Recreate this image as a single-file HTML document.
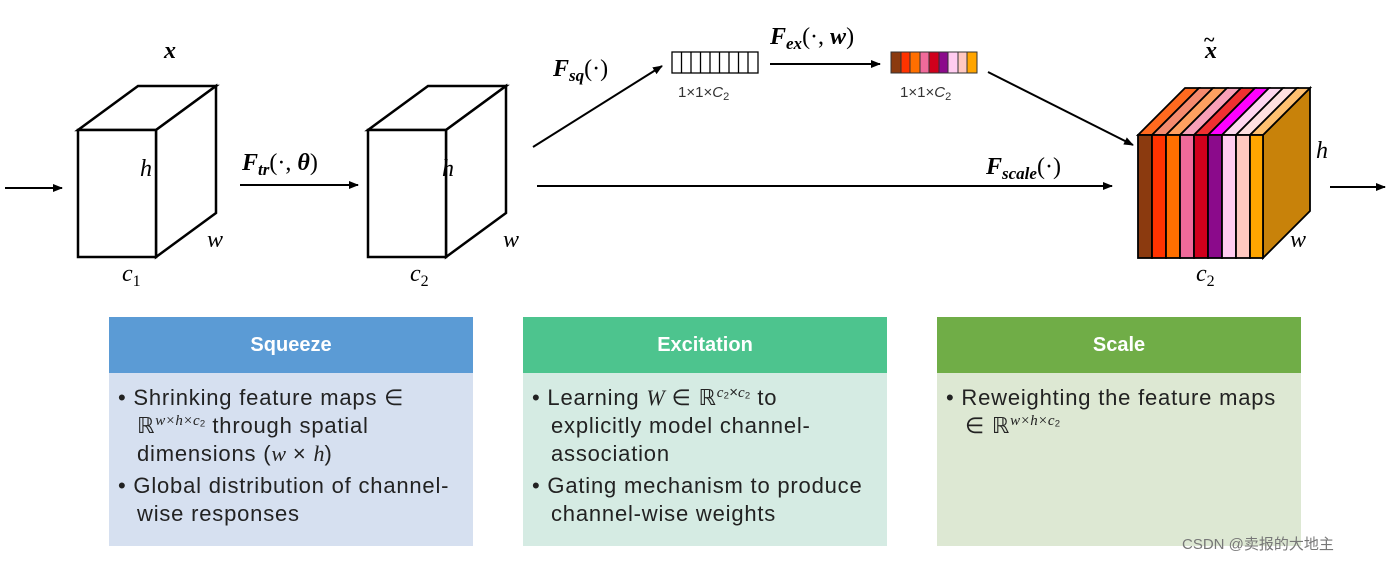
<!DOCTYPE html>
<html><head><meta charset="utf-8"><style>
body{margin:0;width:1389px;height:561px;background:#fff;overflow:hidden;font-family:"Liberation Sans",sans-serif;position:relative}
.box{position:absolute;top:317px;width:364px;height:229px}
.hd{height:56px;color:#fff;font-weight:bold;font-size:20px;display:flex;align-items:center;justify-content:center}
.bd{height:173px;padding:11px 0 0 9px;box-sizing:border-box;font-size:22px;letter-spacing:0.8px;line-height:28px;color:#222;white-space:nowrap}
.bd .l{padding-left:19px}
.bd .g{height:4px}
i.m{font-family:"Liberation Serif",serif;font-style:italic;letter-spacing:0}
sup{font-size:15px;letter-spacing:0;line-height:0}
</style></head><body>
<div class="box" style="left:109px"><div class="hd" style="background:#5B9BD5">Squeeze</div><div class="bd" style="background:#D6E0F0">
<div>• Shrinking feature maps ∈</div><div class="l">ℝ<sup><i class="m">w×h×c</i>₂</sup> through spatial</div><div class="l">dimensions (<i class="m">w</i> × <i class="m">h</i>)</div><div class="g"></div><div>• Global distribution of channel-</div><div class="l">wise responses</div></div></div>
<div class="box" style="left:523px"><div class="hd" style="background:#4DC48E">Excitation</div><div class="bd" style="background:#D5EBE3">
<div>• Learning <i class="m">W</i> ∈ ℝ<sup><i class="m">c</i>₂×<i class="m">c</i>₂</sup> to</div><div class="l">explicitly model channel-</div><div class="l">association</div><div class="g"></div><div>• Gating mechanism to produce</div><div class="l">channel-wise weights</div></div></div>
<div class="box" style="left:937px"><div class="hd" style="background:#70AD47">Scale</div><div class="bd" style="background:#DDE8D3">
<div>• Reweighting the feature maps</div><div class="l">∈ ℝ<sup><i class="m">w×h×c</i>₂</sup></div></div></div>
<svg width="1389" height="561" style="position:absolute;left:0;top:0" font-family="Liberation Serif,serif">
<defs><marker id="a" markerWidth="10" markerHeight="8" refX="9" refY="4" orient="auto" markerUnits="userSpaceOnUse"><path d="M0,0L10,4L0,8z" fill="#000"/></marker></defs>
<g stroke="#000" stroke-width="2.5" fill="#fff">
<path d="M78,130L138,86L216,86L156,130z"/><path d="M156,130L216,86L216,213L156,257z"/><rect x="78" y="130" width="78" height="127"/>
<path d="M368,130L428,86L506,86L446,130z"/><path d="M446,130L506,86L506,213L446,257z"/><rect x="368" y="130" width="78" height="127"/>
</g>
<g stroke="#000" stroke-width="2" marker-end="url(#a)">
<line x1="5" y1="188" x2="62" y2="188"/><line x1="240" y1="185" x2="358" y2="185"/>
<line x1="537" y1="186" x2="1112" y2="186"/><line x1="533" y1="147" x2="662" y2="66"/>
<line x1="770" y1="64" x2="880" y2="64"/><line x1="988" y1="72" x2="1133" y2="145"/>
<line x1="1330" y1="187" x2="1385" y2="187"/>
</g>
<g stroke="#000" stroke-width="1.3" fill="#fff">
<rect x="672" y="52" width="86" height="21"/>
<line x1="681.5" y1="52" x2="681.5" y2="73"/><line x1="691" y1="52" x2="691" y2="73"/><line x1="700.5" y1="52" x2="700.5" y2="73"/><line x1="710" y1="52" x2="710" y2="73"/><line x1="719.5" y1="52" x2="719.5" y2="73"/><line x1="729" y1="52" x2="729" y2="73"/><line x1="738.5" y1="52" x2="738.5" y2="73"/><line x1="748" y1="52" x2="748" y2="73"/>
</g>
<g stroke="#333" stroke-width="1">
<rect x="891" y="52" width="10" height="21" fill="#8B3A0F"/><rect x="901" y="52" width="9" height="21" fill="#FF3300"/><rect x="910" y="52" width="10" height="21" fill="#FF6F00"/><rect x="920" y="52" width="9" height="21" fill="#F06A9A"/><rect x="929" y="52" width="10" height="21" fill="#D0001C"/><rect x="939" y="52" width="9" height="21" fill="#8B0A8B"/><rect x="948" y="52" width="10" height="21" fill="#FFCCF0"/><rect x="958" y="52" width="9" height="21" fill="#FFC8C0"/><rect x="967" y="52" width="10" height="21" fill="#FFA500"/>
</g>
<g stroke="#000" stroke-width="1.8">
<path d="M1263,135L1310,88L1310,211L1263,258z" fill="#C8820A"/>
<path d="M1138,135L1185,88L1199,88L1152,135z" fill="#FF6A1F"/>
<path d="M1152,135L1199,88L1213,88L1166,135z" fill="#F58B6E"/>
<path d="M1166,135L1213,88L1227,88L1180,135z" fill="#FFA060"/>
<path d="M1180,135L1227,88L1241,88L1194,135z" fill="#F8A0B8"/>
<path d="M1194,135L1241,88L1255,88L1208,135z" fill="#F03030"/>
<path d="M1208,135L1255,88L1269,88L1222,135z" fill="#FF00FF"/>
<path d="M1222,135L1269,88L1283,88L1236,135z" fill="#FFD8F0"/>
<path d="M1236,135L1283,88L1297,88L1250,135z" fill="#FFE0E0"/>
<path d="M1250,135L1297,88L1310,88L1263,135z" fill="#FFC070"/>
<rect x="1138" y="135" width="14" height="123" fill="#8B3A0F"/><rect x="1152" y="135" width="14" height="123" fill="#FF3300"/><rect x="1166" y="135" width="14" height="123" fill="#FF6F00"/><rect x="1180" y="135" width="14" height="123" fill="#F06A9A"/><rect x="1194" y="135" width="14" height="123" fill="#D0001C"/><rect x="1208" y="135" width="14" height="123" fill="#8B0A8B"/><rect x="1222" y="135" width="14" height="123" fill="#FFCCF0"/><rect x="1236" y="135" width="14" height="123" fill="#FFC8C0"/><rect x="1250" y="135" width="13" height="123" fill="#FFA500"/>
</g>
<g font-size="24" font-style="italic" fill="#000">
<text x="140" y="176">h</text><text x="207" y="247">w</text><text x="122" y="281">c<tspan font-size="16" dy="5" font-style="normal">1</tspan></text>
<text x="442" y="176">h</text><text x="503" y="247">w</text><text x="410" y="281">c<tspan font-size="16" dy="5" font-style="normal">2</tspan></text>
<text x="1316" y="158">h</text><text x="1290" y="247">w</text><text x="1196" y="281">c<tspan font-size="16" dy="5" font-style="normal">2</tspan></text>
<text x="164" y="58" font-weight="bold">x</text><text x="1205" y="58" font-weight="bold">x</text><text x="1204" y="46" font-size="20" font-weight="bold" font-style="normal">~</text>
<text x="242" y="170" font-weight="bold">F<tspan font-size="17" dy="5">tr</tspan><tspan dy="-5" font-style="normal" font-weight="normal">(·, </tspan><tspan>θ</tspan><tspan font-style="normal" font-weight="normal">)</tspan></text>
<text x="553" y="76" font-weight="bold">F<tspan font-size="17" dy="5">sq</tspan><tspan dy="-5" font-style="normal" font-weight="normal">(·)</tspan></text>
<text x="770" y="44" font-weight="bold">F<tspan font-size="17" dy="5">ex</tspan><tspan dy="-5" font-style="normal" font-weight="normal">(·, </tspan><tspan>w</tspan><tspan font-style="normal" font-weight="normal">)</tspan></text>
<text x="986" y="174" font-weight="bold">F<tspan font-size="17" dy="5">scale</tspan><tspan dy="-5" font-style="normal" font-weight="normal">(·)</tspan></text>
</g>
<g font-size="15" fill="#333" font-family="Liberation Sans,sans-serif"><text x="678" y="97">1×1×<tspan font-style="italic">C</tspan><tspan font-size="11" dy="3">2</tspan></text><text x="900" y="97">1×1×<tspan font-style="italic">C</tspan><tspan font-size="11" dy="3">2</tspan></text></g>
<text x="1182" y="549" font-size="15" fill="#777" font-family="Liberation Sans,Noto Sans CJK SC,sans-serif">CSDN @卖报的大地主</text>
</svg>
</body></html>
